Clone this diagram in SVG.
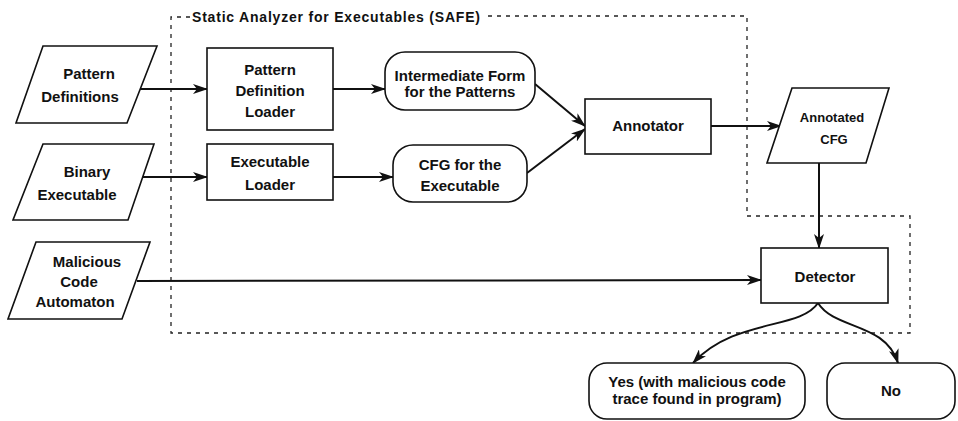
<svg xmlns="http://www.w3.org/2000/svg" width="958" height="421" viewBox="0 0 958 421">
<style>
.n{fill:#fff;stroke:#111;stroke-width:1.6}
.t{font-family:"Liberation Sans",Arial,sans-serif;font-weight:bold;font-size:15px;fill:#111;text-anchor:middle}
.s{font-size:13px}
.c{fill:none;stroke:#111;stroke-width:2}
.d{fill:none;stroke:#222;stroke-width:1.3;stroke-dasharray:4 5}
</style>
<defs>
<marker id="a" markerWidth="15" markerHeight="10" refX="14" refY="5" orient="auto" markerUnits="userSpaceOnUse">
<path d="M0,0 L15,5 L0,10 L4,5 z" fill="#111"/>
</marker>
</defs>
<rect width="958" height="421" fill="#fff"/>
<g id="safe-boundary">
<path class="d" d="M190,17 L171,17 L171,333 L910,333 L910,216 L747,216 L747,16 L484,16"/>
<text class="t s" x="192" y="22" style="text-anchor:start;font-size:14px" textLength="288" lengthAdjust="spacing">Static Analyzer for Executables (SAFE)</text>
</g>
<g id="connectors">
<path class="c" d="M133,89 L207,89" marker-end="url(#a)"/>
<path class="c" d="M333,89 L385,89" marker-end="url(#a)"/>
<path class="c" d="M130,177 L207,177" marker-end="url(#a)"/>
<path class="c" d="M333,177 L393,177" marker-end="url(#a)"/>
<path class="c" d="M535,84 L585,126" marker-end="url(#a)"/>
<path class="c" d="M527,173 L585,129" marker-end="url(#a)"/>
<path class="c" d="M711,126 L781,126" marker-end="url(#a)"/>
<path class="c" d="M819,163 L819,248" marker-end="url(#a)"/>
<path class="c" d="M137,281 L761,280" marker-end="url(#a)"/>
<path class="c" d="M818,303 C800,330 735,318 693,363" marker-end="url(#a)"/>
<path class="c" d="M818,303 C835,330 885,322 898,363" marker-end="url(#a)"/>
</g>
<g id="pattern-definitions">
<polygon class="n" points="43,46 157,46 127,123 16,123"/>
<text class="t" x="89" y="79">Pattern</text>
<text class="t" x="80" y="102">Definitions</text>
</g>
<g id="binary-executable">
<polygon class="n" points="43,144 154,144 128,220 13,220"/>
<text class="t" x="87" y="177">Binary</text>
<text class="t" x="77" y="200">Executable</text>
</g>
<g id="malicious-code-automaton">
<polygon class="n" points="36,242 150,242 122,319 8,319"/>
<text class="t" x="87" y="267">Malicious</text>
<text class="t" x="79" y="287">Code</text>
<text class="t" x="75" y="307">Automaton</text>
</g>
<g id="pattern-definition-loader">
<rect class="n" x="207" y="48" width="126" height="82"/>
<text class="t" x="270" y="75">Pattern</text>
<text class="t" x="270" y="96">Definition</text>
<text class="t" x="270" y="117">Loader</text>
</g>
<g id="executable-loader">
<rect class="n" x="207" y="144" width="126" height="56"/>
<text class="t" x="270" y="167">Executable</text>
<text class="t" x="270" y="190">Loader</text>
</g>
<g id="intermediate-form">
<rect class="n" x="385" y="52" width="150" height="58" rx="20"/>
<text class="t" x="460" y="81">Intermediate Form</text>
<text class="t" x="460" y="97">for the Patterns</text>
</g>
<g id="cfg-executable">
<rect class="n" x="393" y="145" width="134" height="57" rx="20"/>
<text class="t" x="460" y="170">CFG for the</text>
<text class="t" x="460" y="191">Executable</text>
</g>
<g id="annotator">
<rect class="n" x="585" y="99" width="126" height="55"/>
<text class="t" x="648" y="131">Annotator</text>
</g>
<g id="annotated-cfg">
<polygon class="n" points="792,88 889,88 866,163 767,163"/>
<text class="t s" x="832" y="122">Annotated</text>
<text class="t s" x="834" y="144">CFG</text>
</g>
<g id="detector">
<rect class="n" x="761" y="248" width="127" height="55"/>
<text class="t" x="825" y="282">Detector</text>
</g>
<g id="yes">
<rect class="n" x="589" y="363" width="216" height="56" rx="18"/>
<text class="t" x="697" y="387">Yes (with malicious code</text>
<text class="t" x="697" y="404">trace found in program)</text>
</g>
<g id="no">
<rect class="n" x="827" y="363" width="128" height="56" rx="18"/>
<text class="t" x="891" y="396">No</text>
</g>
</svg>
